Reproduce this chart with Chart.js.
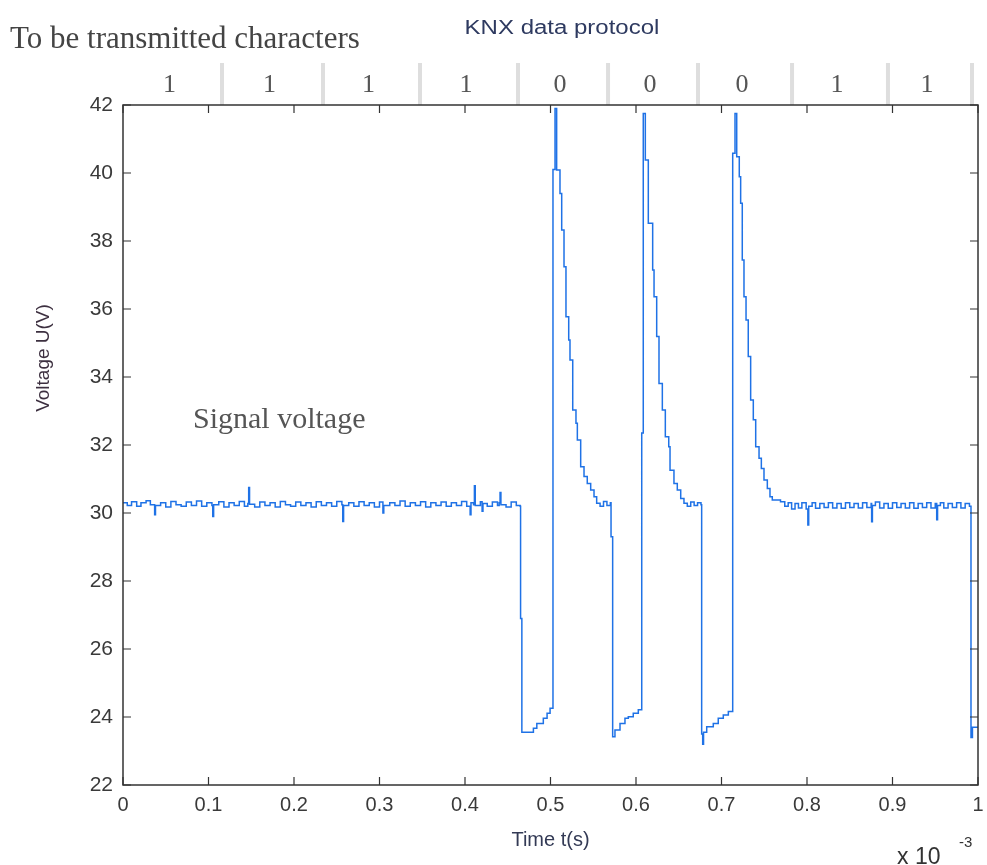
<!DOCTYPE html>
<html>
<head>
<meta charset="utf-8">
<title>KNX data protocol</title>
<script src="https://cdn.jsdelivr.net/npm/chart.js@4.4.0/dist/chart.umd.min.js"></script>
<style>
  html, body { margin: 0; padding: 0; background: #fff; }
  #wrap { width: 987px; height: 865px; }
</style>
</head>
<body>
<div id="wrap"><canvas id="knx" width="987" height="865"></canvas></div>
<script>
// Time in units of 1e-3 s, voltage in V  -> [t, U]
const idleBefore = [
  [0.000, 30.30], [0.005, 30.22], [0.010, 30.33], [0.016, 30.20], [0.021, 30.30],
  [0.027, 30.36], [0.032, 30.24], [0.037, 29.95], [0.038, 30.22], [0.044, 30.30],
  [0.050, 30.18], [0.056, 30.34], [0.062, 30.24], [0.068, 30.20], [0.074, 30.32],
  [0.080, 30.22], [0.086, 30.35], [0.092, 30.20], [0.098, 30.30], [0.104, 30.22],
  [0.105, 29.90], [0.106, 30.24], [0.112, 30.33], [0.118, 30.18], [0.124, 30.30],
  [0.130, 30.22], [0.136, 30.34], [0.142, 30.20], [0.146, 30.28], [0.147, 30.75],
  [0.148, 30.26], [0.154, 30.18], [0.160, 30.32], [0.166, 30.22], [0.172, 30.30],
  [0.178, 30.18], [0.184, 30.34], [0.190, 30.24], [0.196, 30.20], [0.202, 30.32],
  [0.208, 30.22], [0.214, 30.30], [0.220, 30.18], [0.226, 30.33], [0.232, 30.22],
  [0.238, 30.30], [0.244, 30.20], [0.250, 30.34], [0.256, 30.24], [0.257, 29.75],
  [0.258, 30.22], [0.264, 30.30], [0.270, 30.20], [0.276, 30.33], [0.282, 30.22],
  [0.288, 30.30], [0.294, 30.18], [0.300, 30.32], [0.304, 30.00], [0.305, 30.22],
  [0.312, 30.30], [0.318, 30.22], [0.324, 30.35], [0.330, 30.20], [0.336, 30.30],
  [0.342, 30.22], [0.348, 30.33], [0.354, 30.18], [0.360, 30.30], [0.366, 30.22],
  [0.372, 30.32], [0.378, 30.20], [0.384, 30.30], [0.390, 30.22], [0.396, 30.34],
  [0.402, 30.20], [0.406, 29.95], [0.407, 30.30], [0.410, 30.24], [0.411, 30.80],
  [0.412, 30.22], [0.418, 30.33], [0.420, 30.05], [0.421, 30.28], [0.426, 30.20],
  [0.432, 30.32], [0.438, 30.22], [0.440, 30.30], [0.441, 30.60], [0.442, 30.24],
  [0.448, 30.18], [0.454, 30.32], [0.460, 30.22], [0.4645, 30.20]
];

// first "0" bit: drop, slow recharge, overshoot spike and decay
const pulseOne = [
  [0.4650, 26.90], [0.4665, 23.55], [0.4800, 23.67], [0.4840, 23.81], [0.4916, 23.96],
  [0.4960, 24.11], [0.4995, 24.26], [0.5029, 40.10], [0.5053, 41.90], [0.5072, 40.09],
  [0.5111, 39.40], [0.5131, 38.32], [0.5158, 37.24], [0.5181, 35.77], [0.5213, 35.09],
  [0.5228, 34.50], [0.5260, 33.03], [0.5298, 32.64], [0.5314, 32.15], [0.5353, 31.36],
  [0.5392, 31.07], [0.5430, 30.87], [0.5470, 30.68], [0.5509, 30.48], [0.5540, 30.29],
  [0.5580, 30.20], [0.5620, 30.34], [0.5660, 30.22], [0.5700, 30.30]
];

const pulseTwo = [
  [0.5708, 29.30], [0.5727, 23.42], [0.5754, 23.62], [0.5813, 23.81], [0.5871, 23.96],
  [0.5910, 24.01], [0.5968, 24.11], [0.6027, 24.21], [0.6067, 32.35], [0.6085, 41.75],
  [0.6109, 40.38], [0.6144, 38.52], [0.6195, 37.15], [0.6211, 36.36], [0.6242, 35.19],
  [0.6269, 33.81], [0.6308, 33.03], [0.6343, 32.24], [0.6383, 31.95], [0.6398, 31.26],
  [0.6444, 30.87], [0.6483, 30.68], [0.6523, 30.43], [0.6561, 30.29], [0.6600, 30.20],
  [0.6640, 30.32], [0.6680, 30.22], [0.6720, 30.30], [0.6760, 30.24]
];

const pulseThree = [
  [0.6768, 23.50], [0.6780, 23.20], [0.6790, 23.55], [0.6827, 23.71], [0.6904, 23.81],
  [0.6962, 23.96], [0.7021, 24.06], [0.7080, 24.16], [0.7131, 40.58], [0.7158, 41.75],
  [0.7178, 40.48], [0.7208, 39.89], [0.7224, 39.11], [0.7243, 37.44], [0.7263, 36.36],
  [0.7287, 35.68], [0.7313, 34.60], [0.7341, 33.32], [0.7372, 32.74], [0.7400, 31.95],
  [0.7439, 31.61], [0.7466, 31.31], [0.7497, 30.97], [0.7536, 30.72], [0.7567, 30.48],
  [0.7594, 30.38], [0.7690, 30.33]
];

const idleAfter = [
  [0.7740, 30.20], [0.7780, 30.30], [0.7820, 30.12], [0.7860, 30.28], [0.7900, 30.15],
  [0.7940, 30.30], [0.7990, 30.12], [0.8010, 29.65], [0.8020, 30.20], [0.8060, 30.30],
  [0.8100, 30.14], [0.8150, 30.28], [0.8200, 30.16], [0.8250, 30.30], [0.8300, 30.15],
  [0.8350, 30.28], [0.8400, 30.14], [0.8450, 30.30], [0.8500, 30.16], [0.8550, 30.28],
  [0.8600, 30.15], [0.8650, 30.30], [0.8700, 30.16], [0.8750, 30.28], [0.8756, 29.74],
  [0.8765, 30.22], [0.8800, 30.32], [0.8850, 30.15], [0.8900, 30.28], [0.8950, 30.14],
  [0.9000, 30.30], [0.9050, 30.16], [0.9100, 30.28], [0.9150, 30.15], [0.9200, 30.30],
  [0.9250, 30.14], [0.9300, 30.28], [0.9350, 30.16], [0.9400, 30.30], [0.9450, 30.15],
  [0.9500, 30.28], [0.9517, 29.80], [0.9527, 30.22], [0.9560, 30.30], [0.9600, 30.15],
  [0.9650, 30.28], [0.9700, 30.16], [0.9750, 30.30], [0.9800, 30.15], [0.9850, 30.28],
  [0.9900, 30.20]
];

// start of the next "0" bit at the right edge
const nextBit = [[0.9918, 23.40], [0.9935, 23.70], [1.0000, 23.70]];

// characters above the plot and the bit boundaries (1e-3 s)
const bitChars = ['1', '1', '1', '1', '0', '0', '0', '1', '1'];
const bitEdges = [0.1158, 0.2339, 0.3474, 0.4620, 0.5673, 0.6725, 0.7825, 0.8947, 0.9930];

const signal = [...idleBefore, ...pulseOne, ...pulseTwo, ...pulseThree, ...idleAfter, ...nextBit]
    .map(p => ({ x: p[0], y: p[1] }));

// Box, inward tick marks and the text around the axes
const decorations = {
    id: 'decorations',
    afterDraw(chart) {
        const { ctx, chartArea: a, scales: { x, y } } = chart;
        ctx.save();

        // bit strip on top
        ctx.strokeStyle = '#dedede';
        ctx.lineWidth = 4;
        ctx.beginPath();
        bitEdges.forEach(e => {
            const px = x.getPixelForValue(e);
            ctx.moveTo(px, 63);
            ctx.lineTo(px, a.top);
        });
        ctx.stroke();

        ctx.fillStyle = '#555';
        ctx.font = '26px "Liberation Serif"';
        ctx.textAlign = 'center';
        ctx.textBaseline = 'alphabetic';
        let prev = 0;
        bitChars.forEach((c, i) => {
            const mid = x.getPixelForValue((prev + bitEdges[i]) / 2);
            ctx.fillText(c, mid - 3, 92);
            prev = bitEdges[i];
        });

        // box
        ctx.strokeStyle = '#333';
        ctx.lineWidth = 1.5;
        ctx.strokeRect(a.left, a.top, a.right - a.left, a.bottom - a.top);

        // ticks pointing inside, on all four sides
        ctx.lineWidth = 1.2;
        ctx.beginPath();
        x.ticks.forEach(t => {
            const px = x.getPixelForValue(t.value);
            ctx.moveTo(px, a.bottom); ctx.lineTo(px, a.bottom - 8);
            ctx.moveTo(px, a.top); ctx.lineTo(px, a.top + 8);
        });
        y.ticks.forEach(t => {
            const py = y.getPixelForValue(t.value);
            ctx.moveTo(a.left, py); ctx.lineTo(a.left + 8, py);
            ctx.moveTo(a.right, py); ctx.lineTo(a.right - 8, py);
        });
        ctx.stroke();

        // titles
        ctx.fillStyle = '#444';
        ctx.textAlign = 'left';
        ctx.font = '31px "Liberation Serif"';
        ctx.fillText('To be transmitted characters', 10, 48);

        ctx.save();
        ctx.translate(562, 34);
        ctx.scale(1.2, 1);
        ctx.fillStyle = '#2e3a60';
        ctx.font = '20px "Liberation Sans"';
        ctx.textAlign = 'center';
        ctx.fillText('KNX data protocol', 0, 0);
        ctx.restore();

        ctx.fillStyle = '#555';
        ctx.font = '30px "Liberation Serif"';
        ctx.fillText('Signal voltage', 193, 428);

        ctx.save();
        ctx.translate(49, 358);
        ctx.rotate(-Math.PI / 2);
        ctx.fillStyle = '#3d3040';
        ctx.font = '19px "Liberation Sans"';
        ctx.textAlign = 'center';
        ctx.fillText('Voltage U(V)', 0, 0);
        ctx.restore();

        ctx.fillStyle = '#333a55';
        ctx.font = '20px "Liberation Sans"';
        ctx.textAlign = 'center';
        ctx.fillText('Time t(s)', (a.left + a.right) / 2, 846);

        ctx.fillStyle = '#333';
        ctx.textAlign = 'left';
        ctx.font = '23px "Liberation Sans"';
        ctx.fillText('x 10', 897, 864);
        ctx.font = '15px "Liberation Sans"';
        ctx.fillText('-3', 959, 847);

        ctx.restore();
    }
};

new Chart(document.getElementById('knx'), {
    type: 'line',
    data: {
        datasets: [{
            data: signal,
            borderColor: '#1f72e6',
            borderWidth: 1.5,
            pointRadius: 0,
            stepped: true,
            tension: 0
        }]
    },
    options: {
        responsive: false,
        animation: false,
        layout: { padding: { left: 0, top: 105, right: 9, bottom: 0 } },
        plugins: {
            legend: { display: false },
            tooltip: { enabled: false }
        },
        scales: {
            x: {
                type: 'linear',
                min: 0,
                max: 1,
                grid: { display: false, drawTicks: false },
                border: { display: false },
                ticks: {
                    stepSize: 0.1,
                    autoSkip: false,
                    maxRotation: 0,
                    padding: 8,
                    color: '#3a3a3a',
                    font: { family: '"Liberation Sans Narrow", "Liberation Sans"', size: 20 },
                    callback: v => (v === 0 || v === 1) ? String(v) : v.toFixed(1)
                },
                afterFit: s => {
                    s.height = 80;
                    s.paddingLeft = 0;
                    s.paddingRight = 0;
                }
            },
            y: {
                min: 22,
                max: 42,
                grid: { display: false, drawTicks: false },
                border: { display: false },
                ticks: {
                    stepSize: 2,
                    padding: 10,
                    color: '#3a3a3a',
                    font: { family: '"Liberation Sans"', size: 21 }
                },
                afterFit: s => { s.width = 123; }
            }
        }
    },
    plugins: [decorations]
});
</script>
</body>
</html>
